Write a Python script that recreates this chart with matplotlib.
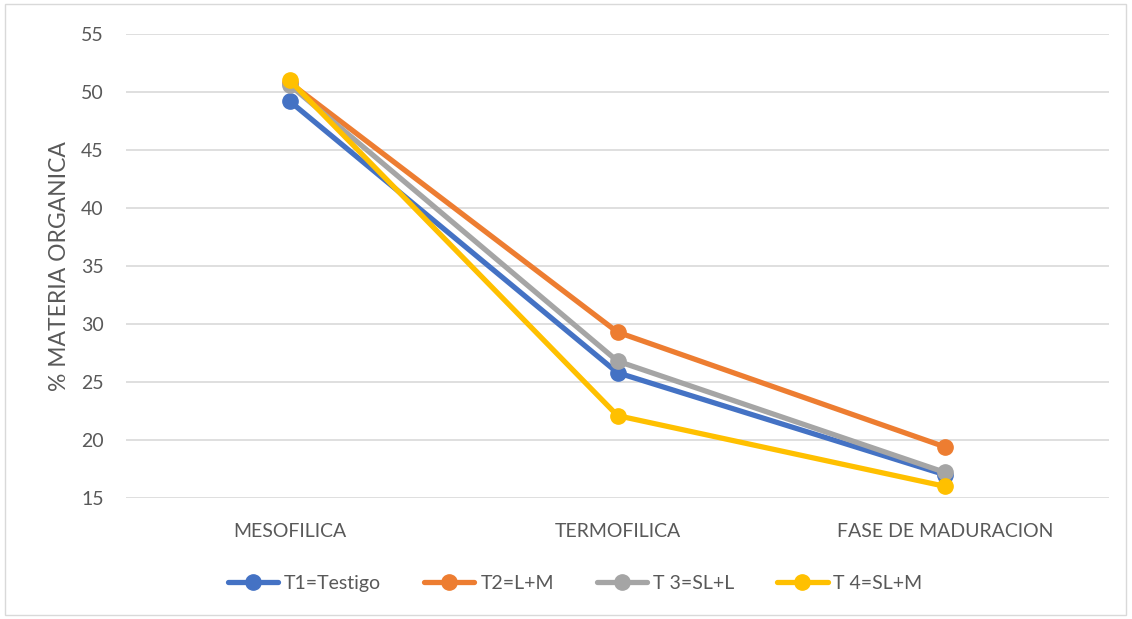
import matplotlib.pyplot as plt
from matplotlib.patches import Rectangle

# % materia organica por fase de compostaje
fases = ['MESOFILICA', 'TERMOFILICA', 'FASE DE MADURACION']
t1_testigo = [49.2, 25.8, 17.0]
t2_lm = [50.8, 29.3, 19.4]
t3_sll = [50.6, 26.8, 17.2]
t4_slm = [51.0, 22.1, 16.0]

series = [
    ('T1=Testigo', t1_testigo, '#4472C4'),
    ('T2=L+M', t2_lm, '#ED7D31'),
    ('T 3=SL+L', t3_sll, '#A5A5A5'),
    ('T 4=SL+M', t4_slm, '#FFC000'),
]

plt.rcParams['font.family'] = ['Lato', 'DejaVu Sans']
txt = '#595959'

fig = plt.figure(figsize=(11.32, 6.19), dpi=100)
ax = fig.add_axes([0.1113, 0.1955, 0.8684, 0.7495])

x = range(len(fases))
for name, vals, col in series:
    ax.plot(x, vals, color=col, lw=3.8, marker='o', markersize=11,
            label=name, solid_capstyle='round')

ax.set_xlim(-0.5, 2.5)
ax.set_ylim(15, 55)
ax.set_yticks(range(15, 56, 5))
ax.set_xticks(list(x))
ax.set_xticklabels(fases)
ax.yaxis.grid(True, color='#d9d9d9', lw=1.2)
ax.set_axisbelow(True)
for s in ax.spines.values():
    s.set_visible(False)
ax.tick_params(axis='y', length=0, pad=16, labelsize=14, colors=txt)
ax.tick_params(axis='x', length=0, pad=18, labelsize=14, colors=txt)
ax.set_ylabel('% MATERIA ORGANICA', fontsize=16.5, color=txt, labelpad=8)

fig.legend(loc='center', bbox_to_anchor=(0.508, 0.058), ncol=4, frameon=False,
           fontsize=14, handlelength=2.6, columnspacing=2.2, handletextpad=0.3,
           labelcolor=txt)

# thin chart border
fig.patches.append(Rectangle((0.004, 0.006), 0.991, 0.988, transform=fig.transFigure,
                             fill=False, edgecolor='#d9d9d9', lw=1))

fig.savefig('out.png', dpi=100)
